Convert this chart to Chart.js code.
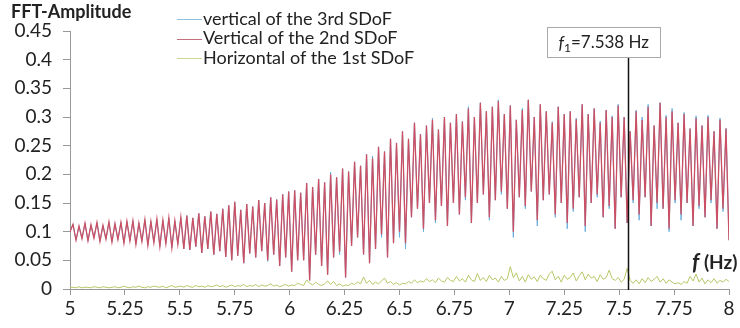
<!DOCTYPE html>
<html>
<head>
<meta charset="utf-8">
<script src="https://cdn.jsdelivr.net/npm/chart.js@4.4.1/dist/chart.umd.min.js"></script>
<style>
  html, body { margin: 0; padding: 0; background: #fff; }
  #wrap { width: 740px; height: 328px; }
</style>
</head>
<body>
<div id="wrap"><canvas id="fft"></canvas></div>
<script>
// FFT amplitude spectra, 5 - 8 Hz
const yTitle = "FFT-Amplitude";
const xUnit = " (Hz)";
const seriesNames = ["vertical of the 3rd SDoF", "Vertical of the 2nd SDoF", "Horizontal of the 1st SDoF"];
const peakFreq = 7.538;
const peakLabel = "=7.538 Hz";

const ampRed = [0.100,
  0.113,0.085, 0.110,0.088, 0.115,0.084, 0.112,0.089, 0.116,0.083, 0.111,0.087, 0.117,0.082, 0.114,0.086, 0.116,0.080, 0.118,0.084,
  0.119,0.078, 0.115,0.083, 0.121,0.076, 0.118,0.081, 0.122,0.074, 0.120,0.079, 0.124,0.072, 0.119,0.078, 0.125,0.070,
  0.128,0.068, 0.124,0.074, 0.132,0.063, 0.127,0.070, 0.135,0.060, 0.131,0.066, 0.140,0.056, 0.146,0.050, 0.152,0.058,
  0.138,0.045, 0.148,0.062, 0.144,0.055, 0.155,0.066, 0.150,0.050, 0.160,0.060, 0.156,0.040, 0.165,0.055, 0.170,0.030,
  0.172,0.050, 0.168,0.050, 0.185,0.015, 0.178,0.060, 0.192,0.040, 0.186,0.025, 0.200,0.055, 0.195,0.065, 0.210,0.020,
  0.205,0.075, 0.222,0.090, 0.215,0.060, 0.235,0.045, 0.228,0.070, 0.248,0.095, 0.240,0.055, 0.262,0.080, 0.255,0.100,
  0.275,0.080, 0.262,0.125, 0.290,0.140, 0.270,0.105, 0.285,0.150, 0.295,0.120, 0.278,0.145, 0.300,0.110, 0.290,0.150,
  0.305,0.130, 0.292,0.160, 0.315,0.115, 0.300,0.150, 0.325,0.165, 0.310,0.125, 0.318,0.155, 0.328,0.170, 0.305,0.140,
  0.320,0.100, 0.295,0.160, 0.312,0.145, 0.330,0.170, 0.300,0.120, 0.322,0.155, 0.310,0.165, 0.290,0.130, 0.318,0.150, 0.305,0.115,
  0.310,0.140, 0.296,0.160, 0.322,0.110, 0.305,0.150, 0.315,0.165, 0.290,0.125, 0.312,0.145, 0.300,0.105, 0.320,0.160,
  0.300,0.115, 0.275,0.155, 0.310,0.130, 0.295,0.160, 0.318,0.110, 0.285,0.150, 0.325,0.140, 0.300,0.105, 0.310,0.155,
  0.290,0.130, 0.305,0.150, 0.280,0.110, 0.298,0.145, 0.285,0.125, 0.300,0.155, 0.275,0.105, 0.295,0.140, 0.280,0.085];

const ampBlue = [0.100,
  0.113,0.085, 0.110,0.088, 0.115,0.084, 0.112,0.089, 0.116,0.083, 0.111,0.087, 0.117,0.082, 0.114,0.086, 0.116,0.080, 0.118,0.084,
  0.119,0.078, 0.115,0.083, 0.121,0.076, 0.118,0.081, 0.122,0.074, 0.120,0.079, 0.124,0.072, 0.119,0.078, 0.125,0.070,
  0.128,0.068, 0.124,0.074, 0.132,0.063, 0.127,0.070, 0.135,0.060, 0.131,0.066, 0.140,0.056, 0.146,0.050, 0.152,0.058,
  0.138,0.045, 0.148,0.062, 0.144,0.055, 0.155,0.066, 0.150,0.048, 0.160,0.060, 0.156,0.040, 0.165,0.055, 0.170,0.030,
  0.172,0.050, 0.168,0.050, 0.185,0.015, 0.178,0.060, 0.192,0.040, 0.186,0.025, 0.204,0.055, 0.195,0.060, 0.210,0.020,
  0.205,0.075, 0.222,0.090, 0.215,0.060, 0.235,0.045, 0.232,0.070, 0.248,0.090, 0.240,0.055, 0.262,0.080, 0.252,0.090,
  0.275,0.070, 0.262,0.125, 0.290,0.140, 0.270,0.100, 0.285,0.150, 0.298,0.115, 0.278,0.145, 0.300,0.110, 0.290,0.150,
  0.305,0.130, 0.292,0.155, 0.318,0.115, 0.300,0.150, 0.325,0.165, 0.310,0.120, 0.318,0.155, 0.330,0.165, 0.305,0.140,
  0.320,0.090, 0.295,0.160, 0.315,0.140, 0.330,0.170, 0.300,0.110, 0.322,0.155, 0.310,0.165, 0.292,0.125, 0.318,0.150, 0.305,0.105,
  0.310,0.135, 0.298,0.160, 0.322,0.100, 0.305,0.150, 0.315,0.160, 0.293,0.125, 0.312,0.140, 0.302,0.105, 0.322,0.160,
  0.300,0.115, 0.275,0.150, 0.312,0.120, 0.300,0.160, 0.322,0.110, 0.285,0.140, 0.325,0.140, 0.303,0.100, 0.315,0.150,
  0.290,0.120, 0.308,0.150, 0.280,0.110, 0.302,0.140, 0.285,0.125, 0.303,0.150, 0.275,0.105, 0.298,0.135, 0.280,0.085];

const ampGreen = [
  0.002,0.003,0.002,0.004,0.002,0.003,0.003,0.002,0.004,0.003,0.002,0.004,0.003,0.002,0.003,0.004,0.002,0.003,0.005,0.003,
  0.002,0.004,0.003,0.005,0.003,0.002,0.004,0.003,0.005,0.004,0.003,0.005,0.002,0.004,0.006,0.003,0.004,0.005,0.003,0.006,
  0.004,0.003,0.006,0.004,0.005,0.003,0.006,0.004,0.005,0.007,0.004,0.006,0.003,0.005,0.007,0.004,0.006,0.005,0.008,0.004,
  0.006,0.005,0.008,0.004,0.007,0.005,0.006,0.009,0.005,0.007,0.004,0.006,0.008,0.005,0.007,0.006,0.010,0.008,0.006,0.016,
  0.010,0.007,0.012,0.008,0.006,0.009,0.014,0.008,0.013,0.006,0.009,0.005,0.007,0.006,0.010,0.008,0.012,0.009,0.021,0.010,
  0.015,0.008,0.012,0.009,0.014,0.019,0.010,0.013,0.008,0.011,0.007,0.010,0.009,0.013,0.010,0.016,0.011,0.014,0.012,0.018,
  0.013,0.016,0.011,0.019,0.014,0.012,0.020,0.015,0.013,0.022,0.014,0.018,0.012,0.024,0.016,0.013,0.027,0.015,0.020,0.013,
  0.024,0.016,0.019,0.012,0.022,0.015,0.018,0.039,0.020,0.028,0.014,0.022,0.012,0.025,0.017,0.021,0.013,0.024,0.018,0.015,
  0.026,0.031,0.016,0.022,0.012,0.024,0.017,0.020,0.028,0.014,0.023,0.030,0.016,0.026,0.019,0.022,0.013,0.025,0.017,0.020,
  0.033,0.018,0.015,0.020,0.012,0.017,0.036,0.015,0.010,0.016,0.009,0.018,0.011,0.020,0.013,0.017,0.022,0.012,0.018,0.010,
  0.016,0.012,0.009,0.011,0.008,0.013,0.010,0.022,0.014,0.026,0.012,0.019,0.009,0.016,0.011,0.018,0.010,0.015,0.012,0.017,0.013];

// uniform FFT frequency bins from 5 to 8 Hz
const fMin = 5, fMax = 8;
const freqs = ampRed.map((_, i) => fMin + i * (fMax - fMin) / (ampRed.length - 1));
const toPts = arr => arr.map((v, i) => ({ x: freqs[i], y: v }));

const colors = ["#6aaedc", "#cc5064", "#b4c867"];
const legendColors = ["#8cc3dc", "#c5707c", "#cdd590"];
const FONT = "Lato, 'Open Sans', sans-serif";
const fmt = v => String(Number(v.toFixed(2)));

// legend, axis captions and the f1 marker are drawn over the plot
const overlay = {
  id: "overlay",
  afterDraw(chart) {
    const ctx = chart.ctx;
    const xs = chart.scales.x, ys = chart.scales.y;
    ctx.save();
    ctx.fillStyle = "#222";
    ctx.textBaseline = "middle";
    ctx.textAlign = "left";

    ctx.font = "bold 18px " + FONT;
    ctx.fillText(yTitle, 11, 12);

    // legend inside the plot
    ctx.font = "18px " + FONT;
    seriesNames.forEach((name, i) => {
      const ly = 19 + i * 19.5;
      ctx.strokeStyle = legendColors[i];
      ctx.lineWidth = 1;
      ctx.beginPath();
      ctx.moveTo(177, Math.round(ly) + 0.5);
      ctx.lineTo(202, Math.round(ly) + 0.5);
      ctx.stroke();
      ctx.fillText(name, 203, ly);
    });

    // f (Hz) caption
    ctx.font = "italic bold 22px " + FONT;
    ctx.fillText("f", 692, 263);
    const fw = ctx.measureText("f").width;
    ctx.font = "bold 19px " + FONT;
    ctx.fillText(xUnit, 692 + fw, 263);

    // marker line at f1
    const px = Math.round(xs.getPixelForValue(peakFreq)) + 0.5;
    ctx.strokeStyle = "#111";
    ctx.lineWidth = 1.5;
    ctx.beginPath();
    ctx.moveTo(px, 57);
    ctx.lineTo(px, ys.getPixelForValue(0) + 1);
    ctx.stroke();

    // label box
    const bx = px - 81, by = 27.5, bw = 113, bh = 30;
    ctx.fillStyle = "#fff";
    ctx.fillRect(bx, by, bw, bh);
    ctx.strokeStyle = "#a8a8a8";
    ctx.lineWidth = 1;
    ctx.strokeRect(bx, by, bw, bh);
    ctx.fillStyle = "#222";
    let tx = bx + 11;
    ctx.font = "italic 17px " + FONT;
    ctx.fillText("f", tx, 44);
    tx += ctx.measureText("f").width;
    ctx.font = "12px " + FONT;
    ctx.fillText("1", tx, 48);
    tx += ctx.measureText("1").width;
    ctx.font = "17px " + FONT;
    ctx.fillText(peakLabel, tx, 43);
    ctx.restore();
  }
};

new Chart(document.getElementById("fft"), {
  type: "line",
  data: {
    datasets: [
      { label: seriesNames[0], data: toPts(ampBlue), borderColor: colors[0], borderWidth: 1, order: 3 },
      { label: seriesNames[1], data: toPts(ampRed), borderColor: colors[1], borderWidth: 1.3, order: 2 },
      { label: seriesNames[2], data: toPts(ampGreen), borderColor: colors[2], borderWidth: 1, order: 1 }
    ]
  },
  options: {
    responsive: true,
    maintainAspectRatio: false,
    animation: false,
    layout: { padding: { top: 31, right: 11, left: 0, bottom: 0 } },
    elements: {
      point: { radius: 0 },
      line: { tension: 0, fill: false }
    },
    plugins: { legend: { display: false }, tooltip: { enabled: false } },
    scales: {
      x: {
        type: "linear",
        min: fMin, max: fMax,
        ticks: { stepSize: 0.25, color: "#222", font: { family: FONT, size: 19 }, padding: 2, maxRotation: 0, callback: fmt },
        grid: { drawOnChartArea: false, tickLength: 6, color: "#999" },
        border: { color: "#999" },
        afterFit(s) { s.height = 39; }
      },
      y: {
        min: 0, max: 0.45,
        ticks: { stepSize: 0.05, color: "#222", font: { family: FONT, size: 19 }, padding: 11, callback: fmt },
        grid: { drawOnChartArea: false, tickLength: 7, color: "#999" },
        border: { color: "#999" },
        afterFit(s) { s.width = 70; }
      }
    }
  },
  plugins: [overlay]
});
</script>
</body>
</html>
